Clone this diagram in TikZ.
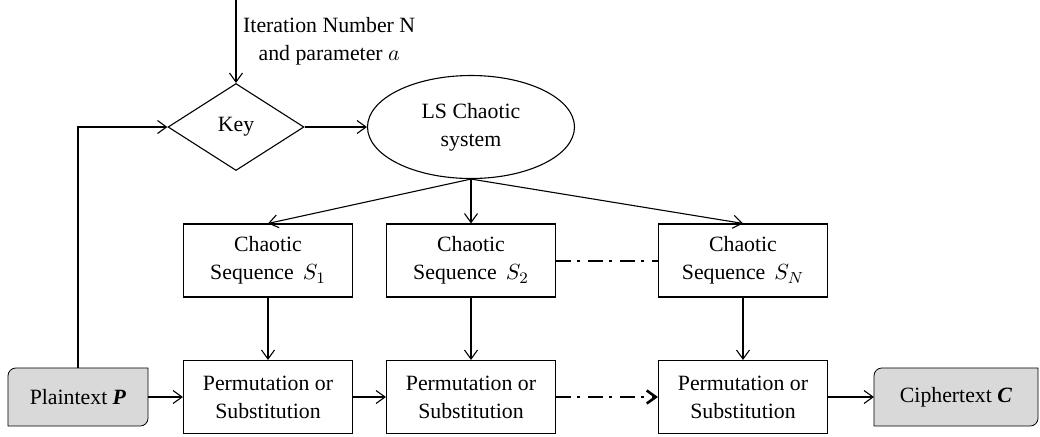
\documentclass[tikz,border=0pt]{standalone}
\usepackage{fontspec}
\setmainfont{Liberation Serif}
\usepackage{tikz}
\usetikzlibrary{arrows.meta, backgrounds, positioning, shapes.geometric}

\begin{document}
\begin{tikzpicture}[x=0.5pt,y=-0.5pt,on grid,line width=0.55pt,
        font=\fontsize{10.9}{14}\selectfont,
        >={Straight Barb[length=4.5pt,width=6.5pt]},
        keynode/.style={draw, diamond, minimum width=68pt, minimum height=43.5pt, inner sep=0pt},
        sysnode/.style={draw, ellipse, minimum width=103.5pt, minimum height=51.5pt, align=center, inner sep=0pt},
        seqbox/.style={draw, rectangle, minimum width=84.5pt, minimum height=36.5pt, align=center, inner sep=1pt},
        iobox/.style={rectangle, minimum height=28.5pt, inner sep=1pt},
        iofill/.style={draw, fill=gray!30},
        dashdot/.style={line width=1pt, dash pattern=on 7.5pt off 3pt on 1.5pt off 4pt}]
        \useasboundingbox (0,0) rectangle (1040,436);

        \node[keynode]              (key)     at (236,127)                {Key};
        \node[sysnode]              (ls)      [right=117.5pt of key]      {LS Chaotic\\system};
        \node[seqbox]               (s_2)     [below=66.75pt of ls]       {Chaotic\\Sequence\ \,$S_2$};
        \node[seqbox]               (s_1)     [left=101.5pt of s_2]       {Chaotic\\Sequence\ \,$S_1$};
        \node[seqbox]               (s_N)     [right=136pt of s_2]        {Chaotic\\Sequence\ \,$S_N$};
        \node[seqbox]               (p_1)     [below=68.25pt of s_1]      {Permutation or\\Substitution};
        \node[seqbox]               (p_2)     [below=68.25pt of s_2]      {Permutation or\\Substitution};
        \node[seqbox]               (p_N)     [below=68.25pt of s_N]      {Permutation or\\Substitution};
        \node[iobox, minimum width=69.5pt]  (plain)   [left=95pt of p_1]   {Plaintext \textbf{\textit{P}}};
        \node[iobox, minimum width=81.5pt]  (cipher)  [right=106.5pt of p_N] {Ciphertext \textbf{\textit{C}}};
        \coordinate                 (iter)    at (236,0);

        \begin{scope}[on background layer]
            \foreach \n in {plain, cipher}
                \filldraw[iofill] (\n.south west) -- ([yshift=-4pt]\n.north west)
                    arc[start angle=180, end angle=90, radius=4pt] -- (\n.north east)
                    -- ([yshift=4pt]\n.south east) arc[start angle=0, end angle=-90, radius=4pt] -- cycle;
        \end{scope}

        \path[->]   (iter) edge node[right, align=center] {Iteration Number N\\and parameter $a$} (key)
        (key) edge (ls)
        (ls.south) edge (s_1.north)
        edge (s_2.north)
        edge (s_N.north)
        (s_1) edge (p_1)
        (s_2) edge (p_2)
        (s_N) edge (p_N)
        (plain) edge (p_1)
        (p_1) edge (p_2)
        (p_N) edge (cipher)
        ;
        \draw[->] (plain) |- (key);
        \draw[dashdot] (s_2) -- (s_N);
        \draw[dashdot, -{Straight Barb[length=4.5pt,width=6.5pt,line width=1.3pt]}] (p_2) -- (p_N);
    \end{tikzpicture}
\end{document}
